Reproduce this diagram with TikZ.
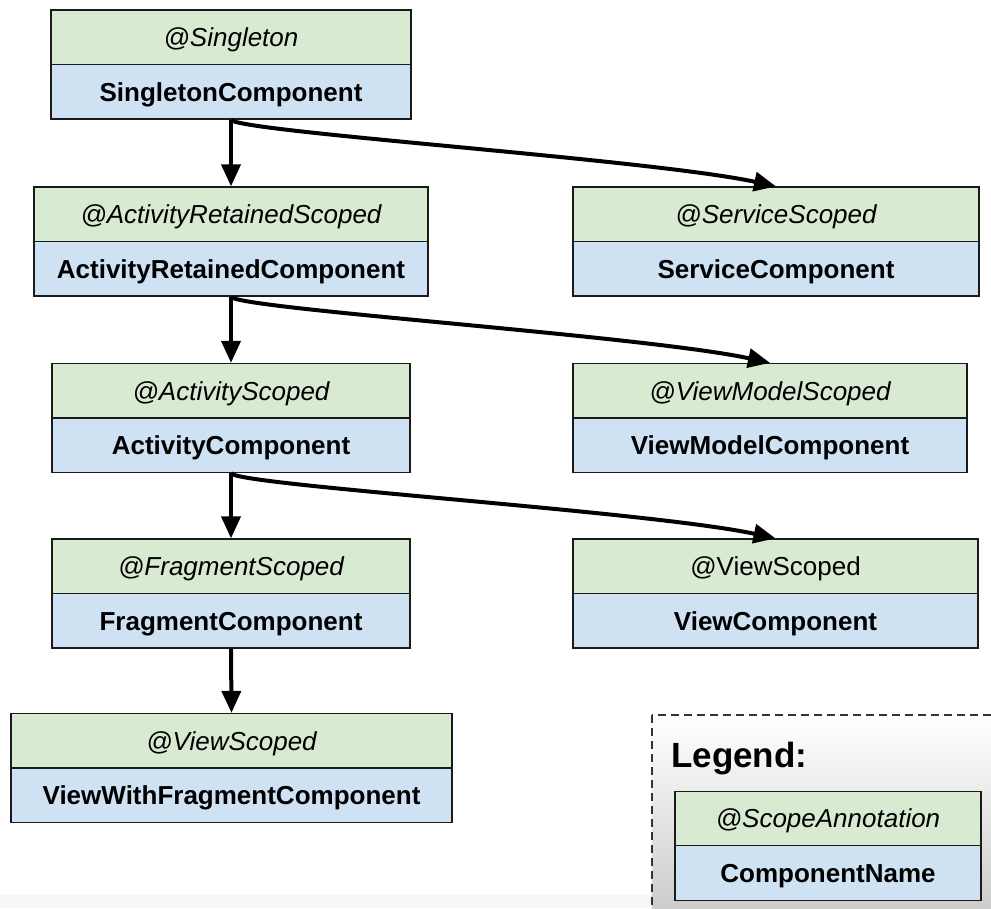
\documentclass[tikz,border=0pt]{standalone}
\usepackage{fontspec}
\setmainfont{Liberation Sans}
\usetikzlibrary{arrows.meta}
\definecolor{scopegreen}{HTML}{D9EAD3}
\definecolor{compblue}{HTML}{CFE2F3}
\definecolor{edgegray}{HTML}{1A1A1A}
\definecolor{stripgray}{HTML}{F7F7F7}
\tikzset{
  halfbox/.style={rectangle, draw=edgegray, line width=1.3pt, inner sep=0pt,
    minimum height=54.5pt, text height=24pt, text depth=5.5pt},
  scopebox/.style={halfbox, fill=scopegreen, font=\fontsize{26}{30}\selectfont\itshape},
  plainscope/.style={halfbox, fill=scopegreen, font=\fontsize{26}{30}\selectfont},
  compbox/.style={halfbox, fill=compblue, font=\fontsize{26}{30}\selectfont\bfseries},
  link/.style={draw=black, line width=4pt, -{Triangle[length=22pt,width=19pt]}},
  legendframe/.style={draw=black!80, line width=1.4pt, dash pattern=on 8pt off 5pt,
    top color=white, bottom color=black!21},
  legendtitle/.style={anchor=base west, inner sep=0pt,
    font=\fontsize{35}{40}\selectfont\bfseries}
}
\begin{document}
\begin{tikzpicture}[x=1pt, y=-1pt]
\useasboundingbox (0,0) rectangle (991,908);

% pale strip along the bottom edge
\fill[stripgray] (0,895) rectangle (652,908);

% legend panel, running off the right and bottom edges
\begin{scope}
  \clip (0,0) rectangle (991,908);
  \path[legendframe] (652,715) rectangle (1000,920);
\end{scope}
\node[legendtitle] (legtitle) at (671,767) {Legend:};
\node[scopebox, minimum width=306pt] (ls) at (828,818.5) {@ScopeAnnotation};
\node[compbox,  minimum width=306pt] (lc) at (828,873) {ComponentName};

% component boxes: scope annotation on top, component name below
\node[scopebox, minimum width=360pt] (s1) at (231,37.25) {@Singleton};
\node[compbox,  minimum width=360pt] (c1) at (231,91.75) {SingletonComponent};

\node[scopebox, minimum width=394pt] (s2) at (231,214.25) {@ActivityRetainedScoped};
\node[compbox,  minimum width=394pt] (c2) at (231,268.75) {ActivityRetainedComponent};

\node[scopebox, minimum width=406pt] (s3) at (776,214.25) {@ServiceScoped};
\node[compbox,  minimum width=406pt] (c3) at (776,268.75) {ServiceComponent};

\node[scopebox, minimum width=358pt] (s4) at (231,390.75) {@ActivityScoped};
\node[compbox,  minimum width=358pt] (c4) at (231,445.25) {ActivityComponent};

\node[scopebox, minimum width=394pt] (s5) at (770,390.75) {@ViewModelScoped};
\node[compbox,  minimum width=394pt] (c5) at (770,445.25) {ViewModelComponent};

\node[scopebox, minimum width=358pt] (s6) at (231,566.25) {@FragmentScoped};
\node[compbox,  minimum width=358pt] (c6) at (231,620.75) {FragmentComponent};

\node[plainscope, minimum width=405pt] (s7) at (775.5,566.25) {@ViewScoped};
\node[compbox,    minimum width=405pt] (c7) at (775.5,620.75) {ViewComponent};

\node[scopebox, minimum width=441pt] (s8) at (231.5,740.75) {@ViewScoped};
\node[compbox,  minimum width=441pt] (c8) at (231.5,795.25) {ViewWithFragmentComponent};

% parent -> child edges
\draw[link] (c1.south) -- (s2.north);
\draw[link] (c1.south) .. controls +(4,12) and +(-125,-27) .. (s3.north);
\draw[link] (c2.south) -- (s4.north);
\draw[link] (c2.south) .. controls +(4,12) and +(-125,-27) .. (s5.north);
\draw[link] (c4.south) -- (s6.north);
\draw[link] (c4.south) .. controls +(4,12) and +(-125,-27) .. (s7.north);
\draw[link] (c6.south) -- (s8.north);
\end{tikzpicture}
\end{document}
